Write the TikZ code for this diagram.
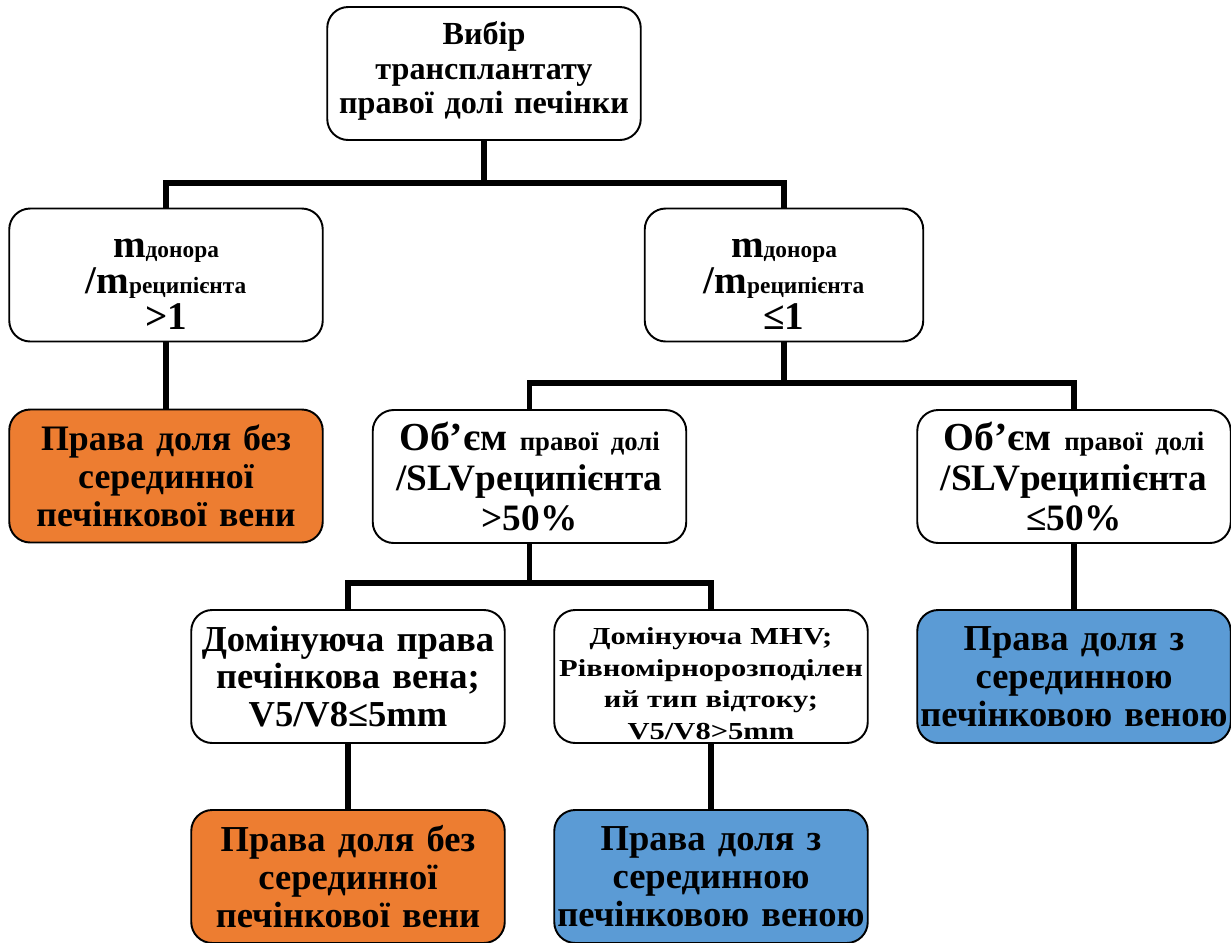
\documentclass[tikz,border=0pt]{standalone}
\usepackage{fontspec}
\setmainfont{Liberation Serif}
\newfontfamily\widefont{Liberation Serif}[FakeStretch=1.25]
\usepackage{tikz}
\usetikzlibrary{positioning}

\definecolor{orangebox}{HTML}{ED7D31}
\definecolor{bluebox}{HTML}{5B9BD5}

\newcommand{\subtxt}[1]{{\fontsize{13.3}{14}\selectfont #1}}
\newcommand{\masstxt}{\fontsize{22.3}{20.4}\selectfont}
\newcommand{\smalltxt}[1]{{\fontsize{15.2}{16}\selectfont #1}}

\tikzset{
  box/.style={draw, line width=1.1pt, rounded corners=0.42cm, align=center,
    minimum height=2.66cm, inner sep=1pt, font=\bfseries\fontsize{20.8}{21.5}\selectfont},
  orangefill/.style={box, fill=orangebox},
  bluefill/.style={box, fill=bluebox},
  link/.style={line width=3.4pt}
}

\begin{document}
\begin{tikzpicture}
\useasboundingbox (0,0) rectangle (24.62,-18.84);

\node[name=Choice, box, text width=6.2cm, font=\bfseries\fontsize{18.3}{19.8}\selectfont] at (9.68,-1.47) {Вибір\\трансплантату\\правої долі печінки\vspace{0.1cm}};

\node[name=Mass-High, box, text width=6.2cm, font=\bfseries\fontsize{19.5}{20.4}\selectfont] at (3.32,-5.5) {\rule{0pt}{0.75cm}\masstxt m\subtxt{донора}\\\masstxt /m\subtxt{реципієнта}\\>1};
\node[name=Mass-Low, box, text width=5.5cm, font=\bfseries\fontsize{19.5}{20.4}\selectfont] at (15.68,-5.5) {\rule{0pt}{0.75cm}\masstxt m\subtxt{донора}\\\masstxt /m\subtxt{реципієнта}\\≤1};

\node[name=Lobe-No-MHV-1, orangefill, text width=6.2cm, font=\bfseries\fontsize{20.4}{21.5}\selectfont] at (3.32,-9.52) {Права доля без\\серединної\\печінкової вени};

\node[name=Volume-High, box, text width=6.2cm, font=\bfseries\fontsize{21.2}{22.7}\selectfont] at (10.59,-9.53) {{\fontsize{22.6}{22.7}\selectfont Об’єм} \smalltxt{правої долі}\\/SLVреципієнта\\>50\%};
\node[name=Volume-Low, box, text width=6.2cm, font=\bfseries\fontsize{21.2}{22.7}\selectfont] at (21.48,-9.53) {{\fontsize{22.6}{22.7}\selectfont Об’єм} \smalltxt{правої долі}\\/SLVреципієнта\\≤50\%};

\node[name=Right-Vein, box, text width=6.2cm] at (6.96,-13.53) {Домінуюча права\\печінкова вена;\\V5/V8≤5mm};
\node[name=Middle-Vein, box, text width=6.2cm, font=\widefont\bfseries\fontsize{13.9}{17.9}\selectfont] at (14.22,-13.53) {\rule{0pt}{0.62cm}Домінуюча MHV;\\Рівномірнорозподілен\\ий тип відтоку;\\V5/V8>5mm};
\node[name=Lobe-MHV-1, bluefill, text width=6.2cm] at (21.48,-13.53) {Права доля з\\серединною\\печінковою веною};

\node[name=Lobe-No-MHV-2, orangefill, text width=6.2cm] at (6.96,-17.53) {Права доля без\\серединної\\печінкової вени};
\node[name=Lobe-MHV-2, bluefill, text width=6.2cm] at (14.22,-17.53) {Права доля з\\серединною\\печінковою веною};

\coordinate (Split-1) at (9.68,-3.66);
\coordinate (Split-2) at (15.68,-7.66);
\coordinate (Split-3) at (10.59,-11.66);

\draw[link] (Choice) -- (Split-1);
\draw[link] (Split-1) -| (Mass-High);
\draw[link] (Split-1) -| (Mass-Low);
\draw[link] (Mass-High) -- (Lobe-No-MHV-1);
\draw[link] (Mass-Low) -- (Split-2);
\draw[link] (Split-2) -| (Volume-High);
\draw[link] (Split-2) -| (Volume-Low);
\draw[link] (Volume-High) -- (Split-3);
\draw[link] (Split-3) -| (Right-Vein);
\draw[link] (Split-3) -| (Middle-Vein);
\draw[link] (Volume-Low) -- (Lobe-MHV-1);
\draw[link] (Right-Vein) -- (Lobe-No-MHV-2);
\draw[link] (Middle-Vein) -- (Lobe-MHV-2);
\end{tikzpicture}
\end{document}
